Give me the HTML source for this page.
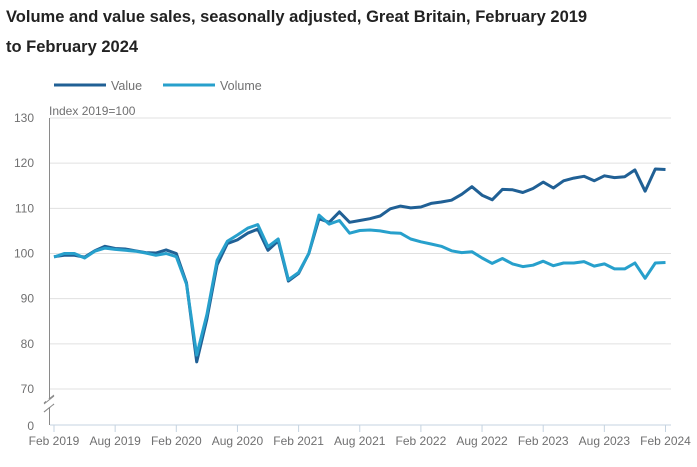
<!DOCTYPE html>
<html><head><meta charset="utf-8"><style>
body{margin:0;background:#fff;font-family:"Liberation Sans",sans-serif;}
svg{display:block}
</style></head><body>
<svg id="chart" width="697" height="467" xmlns="http://www.w3.org/2000/svg">
<text x="6" y="22" font-size="16.5" font-weight="bold" fill="#222">Volume and value sales, seasonally adjusted, Great Britain, February 2019</text>
<text x="6" y="52" font-size="16.5" font-weight="bold" fill="#222">to February 2024</text>
<g>
<line x1="54" y1="85" x2="106" y2="85" stroke="#206095" stroke-width="3"/>
<text x="111" y="90" font-size="12.5" fill="#707071">Value</text>
<line x1="163" y1="85" x2="215" y2="85" stroke="#27a0cc" stroke-width="3"/>
<text x="220" y="90" font-size="12.5" fill="#707071">Volume</text>
</g>
<text x="49" y="115" font-size="12" fill="#707071">Index 2019=100</text>
<g id="grid"></g><g id="axes"></g><g id="series"></g>
</svg>
<script>
const yTicks=[70,80,90,100,110,120,130];
const xTickLabels=["Feb 2019","Aug 2019","Feb 2020","Aug 2020","Feb 2021","Aug 2021","Feb 2022","Aug 2022","Feb 2023","Aug 2023","Feb 2024"];
const valueSeries=[99.3,99.6,99.6,99.2,100.6,101.6,101.1,101.0,100.6,100.2,100.1,
100.8,100.0,93.5,76.0,85.5,97.5,102.2,103.0,104.5,105.4,100.7,102.8,
93.9,95.6,100.0,107.7,106.9,109.2,106.9,107.3,107.7,108.3,109.9,110.5,
110.1,110.3,111.1,111.4,111.8,113.1,114.8,112.9,111.9,114.2,114.1,113.5,
114.4,115.8,114.5,116.1,116.7,117.1,116.1,117.2,116.8,117.0,118.5,113.8,
118.7,118.6];
const volumeSeries=[99.2,100.0,100.0,99.0,100.5,101.2,100.9,100.7,100.5,100.1,99.6,
100.0,99.3,93.2,77.5,86.5,98.5,102.7,104.1,105.6,106.4,101.5,103.2,
94.2,95.8,100.0,108.5,106.5,107.3,104.5,105.1,105.2,105.0,104.6,104.5,
103.2,102.6,102.1,101.6,100.6,100.2,100.4,99.0,97.8,98.9,97.7,97.1,
97.4,98.3,97.3,97.9,97.9,98.2,97.2,97.7,96.6,96.6,97.9,94.5,
97.9,98.0];
const NS="http://www.w3.org/2000/svg";
const x0=54,x1=665.5,nPts=valueSeries.length;
const xs=i=>x0+(x1-x0)*i/(nPts-1);
const ys=v=>118+(130-v)*(389-118)/60;
function mk(t,a,p){const e=document.createElementNS(NS,t);for(const k in a)e.setAttribute(k,a[k]);p.appendChild(e);return e;}
const grid=document.getElementById('grid'),axes=document.getElementById('axes'),ser=document.getElementById('series');
yTicks.forEach(v=>{
const l=mk('line',{x1:50,x2:671,y1:ys(v),y2:ys(v),stroke:'#e0e0e0','stroke-width':1},grid);


const t=mk('text',{x:34,y:ys(v)+4,'font-size':12,fill:'#707071','text-anchor':'end'},grid);
t.textContent=v;


});
const z=mk('text',{x:34,y:430,'font-size':12,fill:'#707071','text-anchor':'end'},grid);
z.textContent='0';


const ya=mk('line',{x1:49.5,x2:49.5,y1:118,y2:425,stroke:'#8a8a8a','stroke-width':1},axes);


const br=mk('path',{d:'M44,403 L54,395 M44,412 L54,404',stroke:'#8a8a8a','stroke-width':1,fill:'none'},axes);


mk('rect',{x:46,y:399,width:7,height:8,fill:'#fff'},axes);
mk('path',{d:'M44,404 L54,396 M44,412 L54,404',stroke:'#8a8a8a','stroke-width':1,fill:'none'},axes);
const xa=mk('line',{x1:50,x2:671,y1:425,y2:425,stroke:'#c5d3e0','stroke-width':1},axes);


xTickLabels.forEach((lab,k)=>{
const x=xs(k*6);
const tk=mk('line',{x1:x,x2:x,y1:425,y2:432,stroke:'#c5d3e0','stroke-width':1},axes);


const t=mk('text',{x:x,y:445,'font-size':12,fill:'#707071','text-anchor':'middle'},axes);
t.textContent=lab;


});
function line(arr,col,name){
const p=mk('path',{d:arr.map((v,i)=>(i?'L':'M')+xs(i).toFixed(1)+','+ys(v).toFixed(1)).join(''),stroke:col,'stroke-width':3,fill:'none','stroke-linejoin':'round'},ser);


}
line(valueSeries,'#206095','value-line');
line(volumeSeries,'#27a0cc','volume-line');
</script>
</body></html>
